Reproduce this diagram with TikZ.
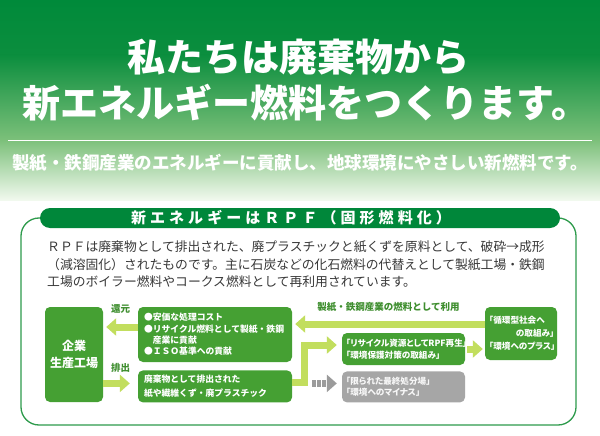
\documentclass[tikz,border=0pt]{standalone}
\usepackage{fontspec}
\setmainfont{Noto Sans CJK JP}
\newfontfamily\jpprop{Noto Sans CJK JP}[RawFeature=+palt]
\usepackage{xcolor}
\usetikzlibrary{calc, positioning, arrows.meta}

\definecolor{topgreen}{HTML}{008A3A}
\definecolor{darkgreen}{HTML}{0B8E3E}
\definecolor{lowgreen}{HTML}{7CC07A}
\definecolor{palegreen}{HTML}{F1F9EE}
\definecolor{pillgreen}{HTML}{00873A}
\definecolor{framegreen}{HTML}{2E9B4C}
\definecolor{boxgreen}{HTML}{45A033}
\definecolor{arrowgreen}{HTML}{C2DE5E}
\definecolor{labelgreen}{HTML}{3E8E2E}
\definecolor{boxgray}{HTML}{A6A6A6}
\definecolor{arrowgray}{HTML}{9B9B9B}
\definecolor{textgray}{HTML}{383838}

\begin{document}
\begin{tikzpicture}[x=1pt,y=-1pt,
                    box node/.style={rounded corners=5pt,fill=boxgreen,text=white,align=left,inner xsep=6pt,
                                     font=\bfseries\fontsize{8.8}{11.3}\selectfont},
                    quote node/.style={box node,inner xsep=4pt,font=\jpprop\bfseries\fontsize{8.6}{12}\selectfont},
                    fat arrow/.style={draw=arrowgreen,line width=7pt,-{Triangle[length=10pt,width=17pt]}},
                    gray arrow/.style={draw=arrowgray,line width=7pt,dash pattern=on 3.5pt off 1.5pt,
                                       -{Triangle[length=10pt,width=17pt]}},
                    label text/.style={text=labelgreen,inner sep=0pt,font=\bfseries\fontsize{9.5}{11}\selectfont}]

  \fill[white] (0,0) rectangle (600,436);
  \useasboundingbox (0,0) rectangle (600,436);

  % green band at the top
  \shade[top color=topgreen,bottom color=darkgreen] (0,0) rectangle (600,55);
  \shade[top color=darkgreen,bottom color=lowgreen] (0,55) rectangle (600,140);
  \shade[top color=lowgreen,bottom color=palegreen] (0,140) rectangle (600,200);

  \node[text=white,inner sep=0pt,font=\bfseries\fontsize{38}{41}\selectfont] (head1) at (298,57) {私たちは廃棄物から};
  \node[text=white,inner sep=0pt,font=\bfseries\fontsize{38}{41}\selectfont] (head2) at (306,103) {新エネルギー燃料をつくります。};
  \draw[white,line width=1pt] (8,140) -- (592,140);
  \node[text=white,inner sep=0pt,font=\bfseries\fontsize{17.5}{20}\selectfont] (sub) at (300,163)
    {製紙・鉄鋼産業のエネルギーに貢献し、地球環境にやさしい新燃料です。};

  % frame and its heading
  \draw[framegreen,line width=1.3pt,rounded corners=18pt] (60,218) -| (21,425) -| (576,218) -- (540,218);
  \node[fill=pillgreen,rounded corners=10pt,minimum width=520pt,minimum height=20pt,inner sep=0pt,text=white,
        font=\bfseries\fontsize{15}{17}\selectfont\addfontfeature{LetterSpace=27}] (rpf head) at (300,218)
    {新エネルギーはＲＰＦ（固形燃料化）\hspace*{18pt}};

  \node[anchor=north west,inner sep=0pt,align=left,text=textgray,font=\fontsize{12.8}{17.5}\selectfont] (rpf text) at (47,241)
    {ＲＰＦは廃棄物として排出された、廃プラスチックと紙くずを原料として、破砕→成形\\
     （減溶固化）されたものです。主に石炭などの化石燃料の代替えとして製紙工場・鉄鋼\\
     工場のボイラー燃料やコークス燃料として再利用されています。};

  % flow
  \node[box node,align=center,inner sep=0pt,minimum width=58pt,minimum height=95pt,
        font=\bfseries\fontsize{12}{17}\selectfont] (1) at (74,354.5) {企業\\生産工場};
  \node[box node,text width=142pt,minimum height=55pt] (2) at (215,334.5)
    {●安価な処理コスト\\●リサイクル燃料として製紙・鉄鋼\\\hspace*{1em}産業に貢献\\●ＩＳＯ基準への貢献};
  \node[box node,text width=142pt,minimum height=32pt,font=\bfseries\fontsize{8.8}{14}\selectfont] (3) [below=8pt of 2]
    {廃棄物として排出された\\紙や繊維くず・廃プラスチック};
  \node[quote node,text width=115pt,minimum height=32pt] (4) at (403.5,349)
    {「リサイクル資源としてRPF再生」\\「環境保護対策の取組み」};
  \node[quote node,fill=boxgray,text=white!94!gray,text width=115pt,minimum height=31pt,
        font=\jpprop\bfseries\fontsize{8.6}{10.5}\selectfont] (5) [below=6pt of 4]
    {「限られた最終処分場」\\「環境へのマイナス」};
  \node[quote node,text width=64pt,minimum height=53pt,font=\jpprop\bfseries\fontsize{8.6}{13}\selectfont] (6) at (521,333.5)
    {「循環型社会へ\\\hspace*{27pt}の取組み」\\「環境へのプラス」};

  \draw[fat arrow,shorten >=3pt] ($(2.west)+(0,-7.5)$) -- ($(1.east |- 2.west)+(0,-7.5)$)
    node[label text,midway,above=10pt] {還元};
  \draw[fat arrow,shorten >=8pt] ($(1.east |- 3.west)+(0,-3)$) -- ($(3.west)+(0,-3)$)
    node[label text,midway,above=7.5pt] {排出};
  \draw[fat arrow,shorten >=3pt] ($(6.west)+(0,-9.5)$) -- ($(2.east |- 6.west)+(0,-9.5)$)
    node[label text,midway,above=9pt] {製紙・鉄鋼産業の燃料として利用};
  \draw[fat arrow,shorten >=5pt] ($(3.east)+(0,-4)$) -- ++(12,0) |- ($(4.west)+(0,-4)$);
  \draw[gray arrow,shorten <=20pt,shorten >=5pt] ($(3.east)+(0,-3)$) -- ($(5.west |- 3.east)+(0,-3)$);
  \draw[fat arrow,shorten <=2pt,shorten >=2pt] (4.east) -- (4.east -| 6.west);

\end{tikzpicture}
\end{document}
